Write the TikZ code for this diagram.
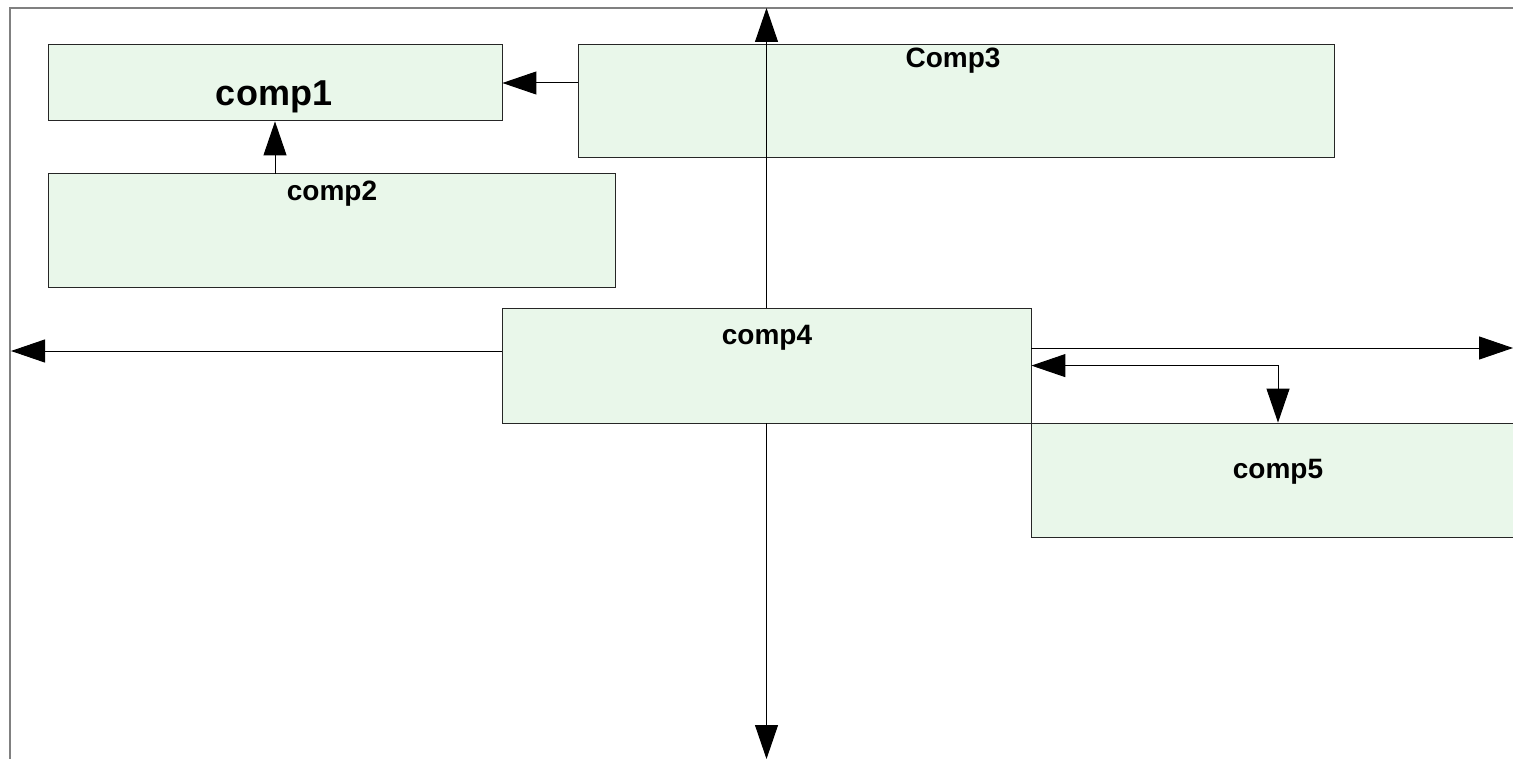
\documentclass[tikz,border=0pt]{standalone}
\usepackage{fontspec}
\setmainfont{Liberation Sans}
\usetikzlibrary{arrows.meta,calc}
\definecolor{boxfill}{HTML}{E9F7EA}
\definecolor{framegray}{HTML}{808080}
\tikzset{
  compbox/.style={draw=black!85, fill=boxfill, line width=0.5pt},
  lbl/.style={anchor=base, inner sep=0pt, font=\bfseries\fontsize{14}{16}\selectfont},
  biglbl/.style={anchor=base, inner sep=0pt, font=\bfseries\fontsize{18}{20}\selectfont},
  arr/.style={line width=0.5pt, -{Triangle[length=17pt,width=11.5pt]}},
  arrboth/.style={line width=0.5pt, {Triangle[length=17pt,width=11.5pt]}-{Triangle[length=17pt,width=11.5pt]}},
  framel/.style={draw=framegray, line width=0.7pt}
}
\begin{document}
\begin{tikzpicture}[x=0.5pt,y=-0.5pt]
\useasboundingbox (0,0) rectangle (1513,759);
\begin{scope}
\clip (0,0) rectangle (1513,759);
% frame
\draw[framel] (10,770) -- (10,8) -- (1530,8);
% boxes
\path[compbox] (48,45) rectangle (502,121);
\path[compbox] (48,174) rectangle (615,287);
\path[compbox] (578,45) rectangle (1334,158);
\path[compbox] (502,308) rectangle (1031,423);
\path[compbox] (1031,423) rectangle (1525,537);
\end{scope}
% named box nodes (invisible, for connectors)
\node[inner sep=0pt, minimum width=227pt, minimum height=38pt] (c1) at (275,83) {};
\node[inner sep=0pt, minimum width=283.5pt, minimum height=56.5pt] (c2) at (331.5,230.5) {};
\node[inner sep=0pt, minimum width=378pt, minimum height=56.5pt] (c3) at (956,101.5) {};
\node[inner sep=0pt, minimum width=264.5pt, minimum height=57.5pt] (c4) at (766.5,365.5) {};
\node[inner sep=0pt, minimum width=247pt, minimum height=57pt] (c5) at (1278,480) {};
% labels
\node[biglbl] (t1) at (274,106) {comp1};
\node[lbl] (t2) at (332,200) {comp2};
\node[lbl] (t3) at (953,68) {Comp3};
\node[lbl] (t4) at (767,344) {comp4};
\node[lbl] (t5) at (1278,478) {comp5};
% free ends
\coordinate (topend) at (766.5,8);
\coordinate (leftend) at (11,351);
\coordinate (rightend) at (1513,348);
\coordinate (bottomend) at (766.5,759);
% connectors
\draw[arr] (c1.east -| c3.west) -- (c1.east);
\draw[arr] (c2.north -| c1.south) -- (c1.south);
\draw[arr] (c4.north) -- (topend);
\draw[arr] (leftend -| c4.west) -- (leftend);
\draw[arr] (rightend -| c4.east) -- (rightend);
\draw[arr] (c4.south) -- (bottomend);
\draw[arrboth] ($(c4.north east)+(0,58)$) -| (c5.north);
\end{tikzpicture}
\end{document}
